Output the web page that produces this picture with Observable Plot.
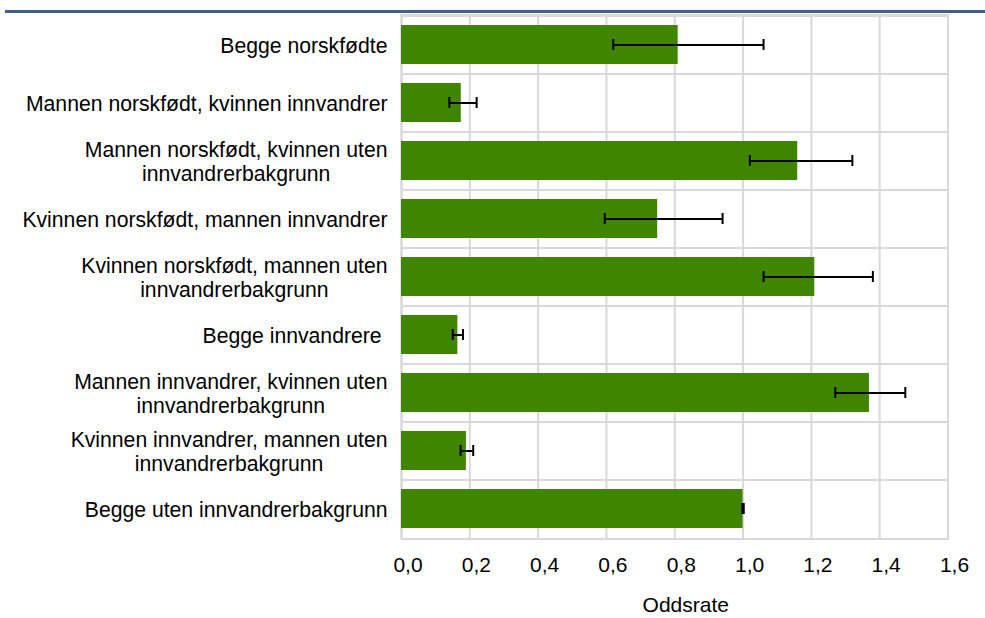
<!DOCTYPE html>
<html>
<head>
<meta charset="utf-8">
<script src="https://cdn.jsdelivr.net/npm/d3@7"></script>
<script src="https://cdn.jsdelivr.net/npm/@observablehq/plot@0.6"></script>
<style>
  html, body { margin: 0; padding: 0; background: white; }
  #wrap { position: relative; width: 985px; height: 618px; overflow: hidden; }
  #topline { position: absolute; left: 5px; top: 10px; width: 980px; height: 3px; background: #41608f; }
  #chart { position: absolute; left: 0; top: 0; }
</style>
</head>
<body>
<div id="wrap">
  <div id="chart"></div>
  <div id="topline"></div>
</div>
<script>
const categories = [
  "Begge norskfødte",
  "Mannen norskfødt, kvinnen innvandrer",
  "Mannen norskfødt, kvinnen uten\ninnvandrerbakgrunn",
  "Kvinnen norskfødt, mannen innvandrer",
  "Kvinnen norskfødt, mannen uten\ninnvandrerbakgrunn",
  "Begge innvandrere\u00a0",
  "Mannen innvandrer, kvinnen uten\ninnvandrerbakgrunn",
  "Kvinnen innvandrer, mannen uten\ninnvandrerbakgrunn",
  "Begge uten innvandrerbakgrunn"
];
const values = [0.81, 0.175, 1.16, 0.75, 1.21, 0.165, 1.37, 0.19, 1.0];
const lower  = [0.62, 0.14, 1.02, 0.595, 1.06, 0.15, 1.27, 0.173, 0.998];
const upper  = [1.06, 0.22, 1.32, 0.94, 1.38, 0.18, 1.475, 0.21, 1.002];
const xTicks = [0, 0.2, 0.4, 0.6, 0.8, 1.0, 1.2, 1.4, 1.6];
const axisTitle = "Oddsrate";

const data = categories.map((c, i) => ({cat: c, v: values[i], lo: lower[i], hi: upper[i]}));

const W = 985, H = 618, mt = 14.5, mb = 79.5, ml = 401, mr = 37.5;
const step = (H - mt - mb) / categories.length;
const grid = "#d9d9d9";

const plot = Plot.plot({
  width: W, height: H,
  marginTop: mt, marginBottom: mb, marginLeft: ml, marginRight: mr,
  style: {fontFamily: "'Liberation Sans', Arial, sans-serif", color: "#000", background: "white", overflow: "visible"},
  x: {domain: [0, 1.6]},
  y: {domain: categories, paddingInner: 0.335, paddingOuter: 0.1675},
  marks: [
    Plot.gridX(xTicks, {stroke: grid, strokeOpacity: 1, strokeWidth: 2}),
    Plot.ruleY(categories, {y: d => d, dy: -step / 2, stroke: grid, strokeWidth: 2}),
    Plot.frame({stroke: grid, strokeWidth: 2}),
    Plot.barX(data, {x: "v", y: "cat", fill: "#3f8500"}),
    Plot.ruleY(data, {y: "cat", x1: "lo", x2: "hi", stroke: "black", strokeWidth: 2}),
    Plot.tickX(data, {x: "lo", y: "cat", stroke: "black", strokeWidth: 2, insetTop: 14, insetBottom: 14}),
    Plot.tickX(data, {x: "hi", y: "cat", stroke: "black", strokeWidth: 2, insetTop: 14, insetBottom: 14}),
    Plot.axisX(xTicks, {tickSize: 0, tickPadding: 18, fontSize: 21, dx: 6.5, tickFormat: d => d.toFixed(1).replace(".", ","), label: null}),
    Plot.axisY({tickSize: 0, tickPadding: 14, fontSize: 21.2, lineHeight: 1.15, tickFormat: d => d, label: null}),
    Plot.text([axisTitle], {frameAnchor: "bottom", dy: 66.5, dx: 11, fontSize: 21, lineAnchor: "middle"})
  ]
});
document.getElementById("chart").appendChild(plot);

// centre multi-line category labels within their right-aligned block
plot.querySelectorAll('g[aria-label="y-axis tick label"] text').forEach(t => {
  const spans = t.querySelectorAll("tspan");
  if (spans.length > 1) {
    let w = 0;
    spans.forEach(s => { w = Math.max(w, s.getComputedTextLength()); });
    t.setAttribute("text-anchor", "middle");
    spans.forEach(s => s.setAttribute("x", -w / 2));
  }
});
</script>
</body>
</html>
